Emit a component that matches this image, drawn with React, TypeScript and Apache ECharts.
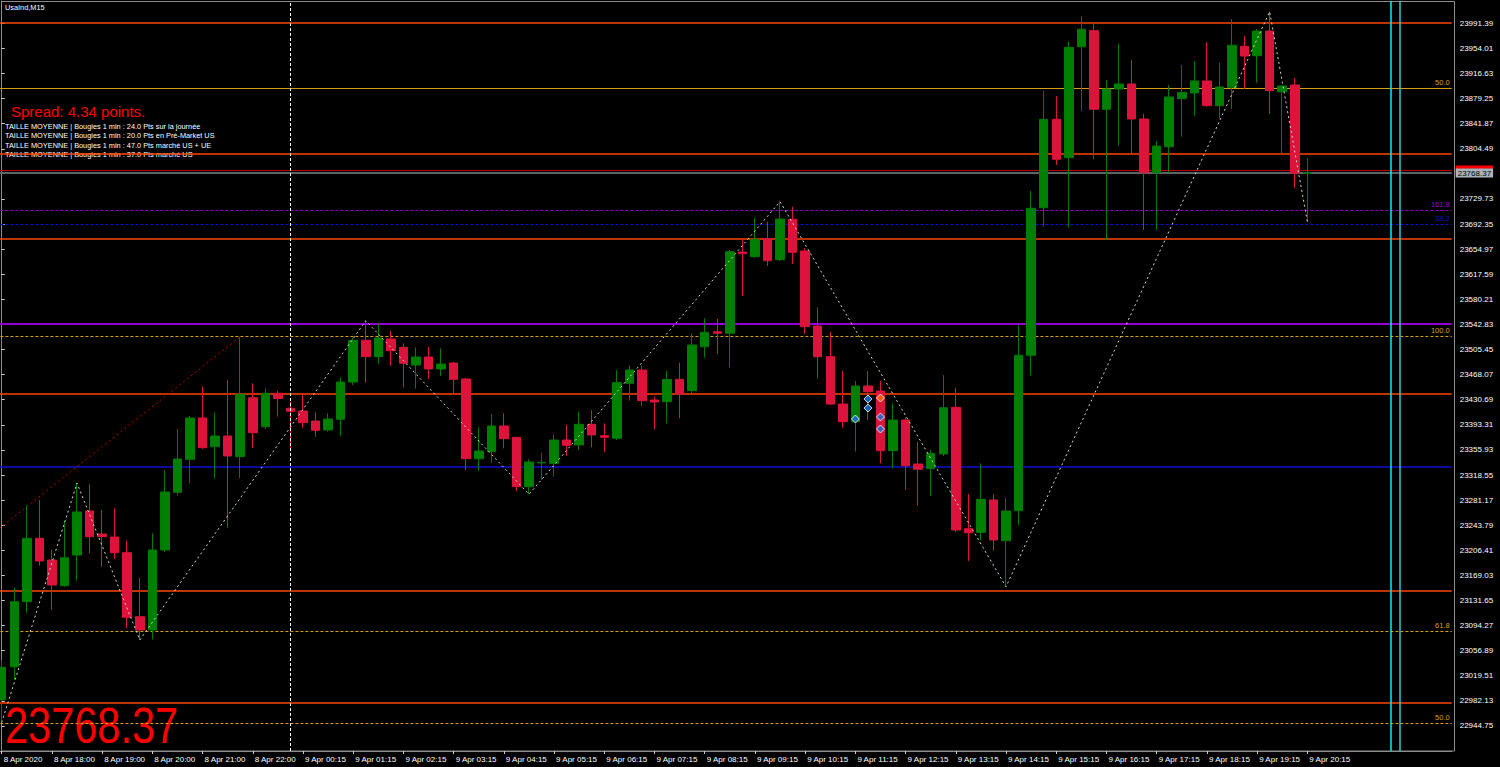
import * as echarts from 'echarts'
import { useEffect, useRef } from 'react'

// séances affichées, barres M15
const sessions = [
  { day: '8 Apr', from: '17:00', to: '22:30' },
  { day: '9 Apr', from: '00:00', to: '20:15' },
]
const firstLabel = '8 Apr 2020'
const futureBars = 11

const opens = [
  22983.5, 23033.1, 23129.9, 23224.3, 23192.0, 23153.7, 23199.4, 23265.0, 23230.7, 23226.2,
  23202.9, 23107.5, 23087.7, 23206.9, 23292.8, 23342.0, 23403.5, 23360.7, 23376.7, 23345.9,
  23433.7, 23390.5, 23440.3, 23417.9, 23413.9, 23399.0, 23385.6, 23401.6, 23457.1, 23519.2,
  23494.8, 23521.2, 23508.8, 23482.4, 23494.3, 23476.5, 23485.4, 23461.6, 23342.9, 23353.3,
  23391.6, 23374.7, 23301.2, 23336.5, 23336.0, 23370.7, 23363.3, 23394.1, 23377.1, 23373.3,
  23455.2, 23475.0, 23430.3, 23427.8, 23461.1, 23444.2, 23509.7, 23532.0, 23529.7, 23650.7,
  23643.8, 23670.6, 23639.3, 23699.5, 23652.2, 23540.5, 23494.8, 23424.3, 23398.0, 23451.2,
  23443.7, 23354.8, 23400.5, 23335.0, 23328.0, 23349.9, 23419.4, 23238.6, 23233.2, 23281.4,
  23220.7, 23265.4, 23496.9, 23716.7, 23848.4, 23791.2, 23956.5, 23980.4, 23863.3, 23893.5,
  23901.0, 23848.9, 23768.9, 23807.6, 23879.1, 23887.6, 23905.5, 23868.7, 23896.1, 23957.1,
  23943.1, 23979.9, 23889.5, 23899.5, 23767.9,
]
const closes = [
  23032.2, 23129.9, 23224.3, 23190.5, 23154.7, 23195.4, 23263.5, 23226.7, 23226.7, 23202.9,
  23106.6, 23087.7, 23206.9, 23293.3, 23342.4, 23403.5, 23359.3, 23376.7, 23346.9, 23438.8,
  23381.6, 23440.3, 23432.5, 23413.5, 23396.5, 23385.2, 23402.0, 23457.1, 23519.2, 23494.8,
  23522.7, 23503.7, 23485.0, 23494.3, 23476.5, 23483.9, 23461.1, 23342.9, 23354.3, 23391.6,
  23372.7, 23301.2, 23338.0, 23337.5, 23370.7, 23362.8, 23394.1, 23378.2, 23374.7, 23456.1,
  23475.0, 23429.3, 23427.3, 23461.1, 23439.2, 23512.2, 23531.1, 23529.7, 23651.2, 23648.2,
  23669.7, 23637.8, 23699.9, 23650.3, 23539.5, 23494.8, 23424.3, 23398.0, 23451.2, 23442.7,
  23354.8, 23400.5, 23332.4, 23327.1, 23350.9, 23418.8, 23236.7, 23232.6, 23282.4, 23221.8,
  23265.0, 23497.0, 23715.8, 23848.4, 23788.8, 23955.6, 23982.5, 23863.3, 23893.5, 23901.0,
  23848.9, 23768.9, 23808.6, 23881.6, 23888.6, 23905.5, 23868.7, 23896.5, 23958.6, 23942.7,
  23979.9, 23891.0, 23898.0, 23768.0, 23768.37,
]
const lows = [
  22950.0, 23013.2, 23113.5, 23183.5, 23117.5, 23151.8, 23161.2, 23202.0, 23182.0, 23193.5,
  23090.3, 23072.8, 23073.9, 23204.0, 23287.8, 23306.2, 23357.3, 23313.7, 23240.1, 23313.7,
  23359.3, 23387.1, 23405.4, 23353.3, 23389.0, 23375.6, 23383.1, 23377.1, 23452.6, 23456.1,
  23484.4, 23481.4, 23449.2, 23447.1, 23461.6, 23466.0, 23437.7, 23326.0, 23325.0, 23336.9,
  23358.4, 23294.8, 23289.9, 23311.1, 23316.1, 23346.9, 23355.8, 23359.9, 23352.8, 23370.7,
  23429.3, 23421.4, 23386.7, 23395.6, 23403.0, 23439.2, 23493.3, 23498.4, 23478.4, 23585.2,
  23641.8, 23629.9, 23637.3, 23632.9, 23528.6, 23462.3, 23422.9, 23389.0, 23353.3, 23400.5,
  23336.0, 23328.6, 23296.2, 23272.9, 23287.3, 23346.9, 23233.7, 23190.5, 23221.8, 23205.8,
  23152.2, 23244.1, 23467.1, 23688.4, 23780.3, 23687.5, 23861.2, 23788.8, 23668.6, 23809.1,
  23797.8, 23683.5, 23683.5, 23768.9, 23822.5, 23853.8, 23867.2, 23849.9, 23863.7, 23893.1,
  23902.9, 23856.3, 23796.7, 23746.5, 23695.9,
]
const highs = [
  23043.0, 23151.3, 23272.9, 23281.4, 23206.9, 23250.5, 23306.5, 23305.0, 23266.5, 23269.0,
  23220.7, 23165.6, 23231.8, 23326.0, 23387.1, 23406.5, 23450.1, 23411.4, 23460.1, 23524.6,
  23455.2, 23447.7, 23444.0, 23427.8, 23439.2, 23412.0, 23410.5, 23464.1, 23522.7, 23548.4,
  23544.5, 23533.1, 23514.8, 23508.8, 23509.7, 23507.3, 23486.9, 23463.5, 23389.6, 23409.4,
  23410.5, 23375.2, 23342.0, 23351.8, 23379.2, 23393.1, 23412.9, 23415.4, 23395.6, 23475.0,
  23481.4, 23481.4, 23435.2, 23473.5, 23485.9, 23529.7, 23552.0, 23551.0, 23653.7, 23669.7,
  23700.9, 23695.9, 23725.7, 23718.2, 23656.3, 23568.4, 23531.6, 23473.5, 23458.6, 23473.5,
  23458.6, 23425.4, 23404.5, 23368.2, 23355.8, 23467.5, 23448.6, 23290.3, 23336.0, 23290.3,
  23283.9, 23542.0, 23741.6, 23890.6, 23883.1, 23964.0, 24002.3, 23991.4, 23906.9, 23960.6,
  23936.7, 23856.3, 23816.1, 23899.5, 23929.3, 23935.2, 23963.1, 23932.7, 23997.8, 23972.5,
  23982.9, 24008.7, 23899.5, 23909.5, 23790.3,
]

// graduations de l'échelle de prix (23767.11 est masqué par l'étiquette du bid)
const priceTicks = [
  22944.75, 22982.13, 23019.51, 23056.89, 23094.27, 23131.65, 23169.03, 23206.41, 23243.79,
  23281.17, 23318.55, 23355.93, 23393.31, 23430.69, 23468.07, 23505.45, 23542.83, 23580.21,
  23617.59, 23654.97, 23692.35, 23729.73, 23804.49, 23841.87, 23879.25, 23916.63, 23954.01,
  23991.39,
]

// zigzag : [index de barre, sommet ou creux]
const zigzagPivots: [number, 'high' | 'low'][] = [
  [0, 'low'], [6, 'high'], [11, 'low'], [29, 'high'], [42, 'low'],
  [62, 'high'], [80, 'low'], [101, 'high'], [104, 'low'],
]
const trendLine = [[-0.5, 23234.2], [19, 23524.6]]

const pivotLevels = [23992.0, 23796.7, 23670.1, 23439.7, 23146.2, 22980.0]
const goldLevels = [23894.6, 23525.2, 23085.8, 22948.7]
const goldLabels = ['50.0', '100.0', '61.8', '50.0']
const purpleLevels = [23543.9, 23712.9]
const purpleLabels = ['', '161.8']
const blueLevels = [23330.5, 23692.0]
const blueLabels = ['', '38.2']

const bid = 23768.37
const ask = 23772.71
const separatorBar = 23
const cyanLines = [110.64, 111.33]

const buyMarks = [[68, 23402.0], [69, 23431.8], [69, 23418.4], [70, 23405.0], [70, 23387.1]]
const closeMarks = [[70, 23433.3]]

const symbolName = 'UsaInd,M15'
const spreadText = 'Spread: 4.34 points.'
const infoLines = [
  'TAILLE MOYENNE | Bougies 1 min : 24.0 Pts sur la journée',
  'TAILLE MOYENNE | Bougies 1 min : 20.0 Pts en Pré-Market US',
  'TAILLE MOYENNE | Bougies 1 min : 47.0 Pts marché US + UE',
  'TAILLE MOYENNE | Bougies 1 min : 37.0 Pts marché US',
]

const sans = '"Liberation Sans", Arial, sans-serif'
const GOLD = '#d4a017'

const pad = (n: number) => String(n).padStart(2, '0')
const toMin = (t: string) => {
  const [h, m] = t.split(':').map(Number)
  return h * 60 + m
}

const buildOption = (): echarts.EChartsOption => {
  const barTimes: string[] = []
  sessions.forEach((s) => {
    for (let m = toMin(s.from); m <= toMin(s.to); m += 15) {
      barTimes.push(`${s.day} ${pad(Math.floor(m / 60))}:${pad(m % 60)}`)
    }
  })
  const categories = [...barTimes, ...Array(futureBars).fill('')]
  const showLabel = (i: number) => i % 4 === 0 && i < barTimes.length

  const candles = opens.map((o, i) => [o, closes[i], lows[i], highs[i]])
  const zigzag = zigzagPivots.map(([i, side]) => [i, side === 'high' ? highs[i] : lows[i]])

  const hLine = (value: number, color: string, type: any, width: number, text = '') => ({
    yAxis: value,
    lineStyle: { color, type, width },
    label: text
      ? { show: true, position: 'insideEndTop', formatter: text, color, fontSize: 7.5, fontFamily: sans, distance: 2 }
      : { show: false },
  })

  const levelLines: any[] = [
    ...pivotLevels.map((v) => hLine(v, '#ff4500', 'solid', 1.5)),
    ...goldLevels.map((v, i) => hLine(v, GOLD, i === 0 ? 'solid' : [3, 2], 1, goldLabels[i])),
    ...purpleLevels.map((v, i) => hLine(v, '#9400d3', i === 0 ? 'solid' : [3, 2], i === 0 ? 2 : 1, purpleLabels[i])),
    ...blueLevels.map((v, i) => hLine(v, '#1010d0', i === 0 ? 'solid' : [3, 2], i === 0 ? 1.5 : 1, blueLabels[i])),
    {
      yAxis: ask,
      lineStyle: { color: '#c00000', type: 'solid', width: 1 },
      label: { show: true, position: 'end', formatter: ask.toFixed(2), backgroundColor: '#ff0000', color: '#800000', fontSize: 8, fontFamily: sans, padding: [1, 2, 0, 2], distance: 4 },
    },
    {
      yAxis: bid,
      lineStyle: { color: '#5c636a', type: 'solid', width: 2 },
      label: { show: true, position: 'end', formatter: bid.toFixed(2), backgroundColor: '#a9b3bd', color: '#000000', fontSize: 8, fontFamily: sans, padding: [1, 2, 0, 2], distance: 4 },
    },
  ]

  return {
    animation: false,
    backgroundColor: '#000000',
    grid: { left: -4.58, top: 1, width: 1456.3, height: 750, containLabel: false, outerBoundsMode: 'none' } as any,
    xAxis: [
      {
        type: 'category',
        data: categories,
        boundaryGap: true,
        axisLine: { show: true, lineStyle: { color: '#8c8c8c' } },
        axisTick: { show: true, alignWithLabel: true, interval: (i: number) => showLabel(i), length: 3, lineStyle: { color: '#d0d0d0' } },
        axisLabel: {
          interval: (i: number) => showLabel(i),
          formatter: (v: string, i: number) => (i === 0 ? firstLabel : v),
          align: 'left',
          color: '#ffffff',
          fontSize: 8,
          fontFamily: sans,
          margin: 4,
          padding: [0, 0, 0, 2],
        },
        splitLine: { show: false },
      },
      { type: 'value', min: -0.5, max: categories.length - 0.5, show: false },
    ],
    yAxis: {
      type: 'value',
      position: 'right',
      offset: 3,
      min: 22907.5,
      max: 24024.6,
      axisLine: { show: true, lineStyle: { color: '#8c8c8c' } },
      axisTick: { show: true, length: 3, customValues: priceTicks, lineStyle: { color: '#d0d0d0' } } as any,
      axisLabel: {
        customValues: priceTicks,
        color: '#ffffff',
        fontSize: 8,
        fontFamily: sans,
        margin: 5,
        formatter: (v: number) => v.toFixed(2),
      } as any,
      splitLine: { show: false },
    },
    graphic: [
      { type: 'rect', shape: { x: 1.5, y: 1.5, width: 1453, height: 749.5 }, style: { fill: 'none', stroke: '#8c8c8c', lineWidth: 1 }, silent: true },
      { type: 'text', x: 5, y: 3, scaleX: 0.92, style: { text: symbolName, fill: '#ffffff', fontSize: 8, fontFamily: sans, verticalAlign: 'top' } },
      { type: 'text', x: 11, y: 104, style: { text: spreadText, fill: '#ff0000', fontSize: 15, fontFamily: sans, verticalAlign: 'top' } },
      ...infoLines.map((t, i) => ({
        type: 'text' as const,
        x: 5,
        y: 122 + i * 9.5,
        scaleX: 0.92,
        style: { text: t, fill: '#ffffff', fontSize: 8, fontFamily: sans, verticalAlign: 'top' as const },
      })),
      { type: 'text', x: 5, y: 701, scaleX: 0.83, style: { text: bid.toFixed(2), fill: '#ff0000', fontSize: 50, fontFamily: sans, verticalAlign: 'top' } },
    ],
    series: [
      {
        type: 'candlestick',
        name: 'UsaInd',
        xAxisIndex: 0,
        yAxisIndex: 0,
        data: candles,
        barWidth: 9,
        z: 3,
        itemStyle: { color: '#008000', color0: '#dc143c', borderColor: '#007a00', borderColor0: '#dc143c', borderWidth: 1 },
      },
      {
        type: 'line',
        name: 'trend',
        xAxisIndex: 1,
        data: trendLine,
        symbol: 'none',
        z: 4,
        lineStyle: { color: '#c00000', width: 1, type: [2, 3] },
        markLine: { z: 1, silent: true, symbol: ['none', 'none'], label: { show: false }, data: levelLines },
      },
      {
        type: 'line',
        name: 'zigzag',
        xAxisIndex: 1,
        data: zigzag,
        symbol: 'none',
        z: 5,
        lineStyle: { color: '#d8d8c8', width: 1, type: [2, 3] },
        markLine: {
          silent: true,
          symbol: ['none', 'none'],
          label: { show: false },
          data: [
            { xAxis: separatorBar, lineStyle: { color: '#ffffff', width: 1, type: [3, 2] } },
            { xAxis: cyanLines[0], lineStyle: { color: '#00f0ff', width: 1.5, type: 'solid' } },
            { xAxis: cyanLines[1], lineStyle: { color: '#30c8d0', width: 1.5, type: 'solid' } },
          ],
        },
      },
      {
        type: 'scatter',
        name: 'buy',
        xAxisIndex: 1,
        data: buyMarks,
        symbol: 'diamond',
        symbolSize: 8,
        z: 6,
        itemStyle: { color: '#1e6fd9', borderColor: '#ffffff', borderWidth: 1 },
      },
      {
        type: 'scatter',
        name: 'close',
        xAxisIndex: 1,
        data: closeMarks,
        symbol: 'diamond',
        symbolSize: 8,
        z: 6,
        itemStyle: { color: '#ff6a00', borderColor: '#ffffff', borderWidth: 1 },
      },
    ],
  }
}

const App = () => {
  const containerRef = useRef<HTMLDivElement>(null)

  useEffect(() => {
    if (!containerRef.current) return
    const chart = echarts.init(containerRef.current, undefined, { renderer: 'svg' })
    chart.setOption(buildOption())
    return () => {
      chart.dispose()
    }
  }, [])

  return (
    <div
      ref={containerRef}
      style={{ position: 'fixed', left: 0, top: 0, width: 1500, height: 767, background: '#000' }}
    />
  )
}

export default App
